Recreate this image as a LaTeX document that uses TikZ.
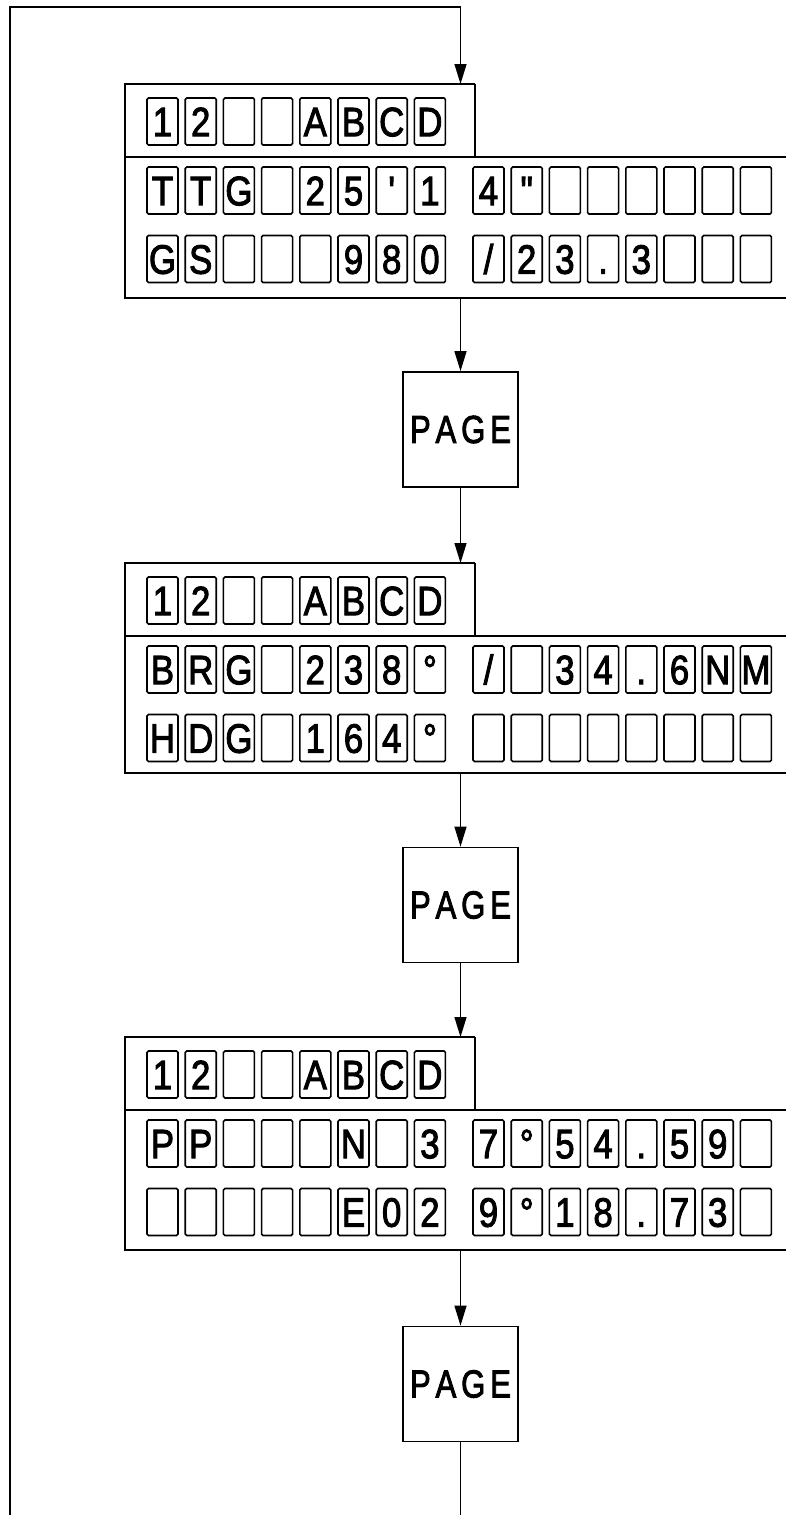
\documentclass[tikz,border=0pt]{standalone}
\usepackage{fontspec}
\usepackage{graphicx}
\newfontfamily\charfont[Ligatures=TeXOff,FakeBold=2.5]{Liberation Sans}
\usetikzlibrary{arrows.meta}
\tikzset{
  cell/.style={draw, line width=1.6pt, rounded corners=1.5pt, minimum width=31pt,
    minimum height=47pt, inner sep=0pt, text height=29.4pt, text depth=0pt,
    font=\charfont\fontsize{41}{41}\selectfont},
  frame/.style={line width=1.7pt},
  pagebox/.style={draw, line width=1.7pt, minimum width=115pt, minimum height=115pt,
    inner sep=0pt, font=\charfont\fontsize{39}{39}\selectfont},
  flow/.style={line width=1.3pt, -{Triangle[length=20pt,width=12pt]}},
  plainline/.style={line width=1.3pt},
}
\newcommand\sq[1]{\scalebox{0.85}[1]{#1}}
\newcommand\pagetext{\scalebox{0.8}[1]{P\kern6pt A\kern6pt G\kern6pt E}}
\newcommand\drawrow[3]{% #1 name, #2 y center, #3 list
  \foreach \c [count=\k from 0] in {#3} {
    \pgfmathsetmacro\xx{\k<8 ? 162.5+38.2*\k : 488.5+38.2*(\k-8)}
    \node[cell] (#1c\k) at (\xx,#2) {\sq{\c}};
  }}
\newcommand\drawpanel[6]{% #1 name, #2 top, #3 bottom offset, #4 header, #5 row2, #6 row3
  \draw[frame] (475,#2) -- (125,#2) -- (125,#2+#3) -- (786,#2+#3);
  \draw[frame] (125,#2+73) -- (786,#2+73);
  \draw[frame] (475,#2) -- (475,#2+73);
  \coordinate (#1in) at (460.5,#2);
  \coordinate (#1out) at (460.5,#2+#3);
  \drawrow{#1a}{#2+37.5}{#4}
  \drawrow{#1b}{#2+106.5}{#5}
  \drawrow{#1d}{#2+175}{#6}
}
\begin{document}
\begin{tikzpicture}[x=1pt,y=-1pt]
\useasboundingbox (0,0) rectangle (786,1515);
\drawpanel{pa}{84}{214}{1,2,{},{},A,B,C,D}{T,T,G,{},2,5,',1,4,",{},{},{},{},{},{}}{G,S,{},{},{},9,8,0,/,2,3,{.},3,{},{},{}}
\drawpanel{pb}{563}{210}{1,2,{},{},A,B,C,D}{B,R,G,{},2,3,8,°,/,{},3,4,{.},6,N,M}{H,D,G,{},1,6,4,°,{},{},{},{},{},{},{},{}}
\drawpanel{pc}{1037}{213}{1,2,{},{},A,B,C,D}{P,P,{},{},{},N,{},3,7,°,5,4,{.},5,9,{}}{{},{},{},{},{},E,0,2,9,°,1,8,{.},7,3,{}}
\node[pagebox] (g1) at (460.5,429.5) {\pagetext};
\node[pagebox] (g2) at (460.5,905) {\pagetext};
\node[pagebox] (g3) at (460.5,1384) {\pagetext};
\coordinate (lb) at (10,1515);
\coordinate (lt) at (10,7);
\coordinate (rt) at (460.5,7);
\coordinate (endc) at (460.5,1515);
\draw[flow] (lb) -- (lt) -- (rt) -- (pain);
\draw[flow] (paout) -- (g1.north);
\draw[flow] (g1.south) -- (pbin);
\draw[flow] (pbout) -- (g2.north);
\draw[flow] (g2.south) -- (pcin);
\draw[flow] (pcout) -- (g3.north);
\draw[plainline] (g3.south) -- (endc);
\end{tikzpicture}
\end{document}
